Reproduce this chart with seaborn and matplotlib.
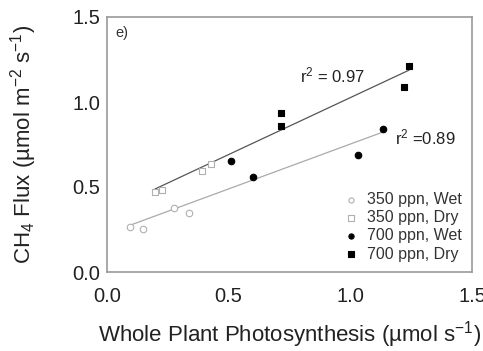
import numpy as np
import pandas as pd
import matplotlib
matplotlib.use("Agg")
import matplotlib.pyplot as plt
import seaborn as sns

# ---- data ----
wet350_x = [0.095, 0.149, 0.275, 0.338]
wet350_y = [0.266, 0.253, 0.375, 0.349]
dry350_x = [0.197, 0.225, 0.389, 0.426]
dry350_y = [0.472, 0.482, 0.596, 0.635]
wet700_x = [0.510, 0.601, 1.030, 1.133]
wet700_y = [0.653, 0.557, 0.688, 0.839]
dry700_x = [0.715, 0.715, 1.222, 1.242]
dry700_y = [0.937, 0.859, 1.090, 1.214]
labels = ["350 ppn, Wet", "350 ppn, Dry", "700 ppn, Wet", "700 ppn, Dry"]
x_ticks = [0.0, 0.5, 1.0, 1.5]
y_ticks = [0.0, 0.5, 1.0, 1.5]
r2_text = ["r$^2$ = 0.97", "r$^2$ =0.89"]

sns.set_style("white")
plt.rcParams["font.family"] = ["Liberation Sans", "DejaVu Sans"]
plt.rcParams["mathtext.fontset"] = "custom"
plt.rcParams["mathtext.rm"] = "Liberation Sans"
plt.rcParams["mathtext.it"] = "Liberation Sans"

df = pd.concat([
    pd.DataFrame({"x": wet350_x, "y": wet350_y, "grp": labels[0], "moist": "Wet"}),
    pd.DataFrame({"x": dry350_x, "y": dry350_y, "grp": labels[1], "moist": "Dry"}),
    pd.DataFrame({"x": wet700_x, "y": wet700_y, "grp": labels[2], "moist": "Wet"}),
    pd.DataFrame({"x": dry700_x, "y": dry700_y, "grp": labels[3], "moist": "Dry"}),
], ignore_index=True)

fig = plt.figure(figsize=(4.83, 3.51), dpi=100)
ax = fig.add_axes([107/483, 1-272/351, (472-107)/483, (272-17)/351])

# regression lines
sns.regplot(data=df[df.moist == "Dry"], x="x", y="y", ci=None, scatter=False,
            ax=ax, line_kws=dict(color="#555555", lw=0.9))
sns.regplot(data=df[df.moist == "Wet"], x="x", y="y", ci=None, scatter=False,
            ax=ax, line_kws=dict(color="#aaaaaa", lw=0.9))

styles = {
    labels[0]: dict(marker="o", facecolor="white", edgecolor="#b0b0b0"),
    labels[1]: dict(marker="s", facecolor="white", edgecolor="#b0b0b0"),
    labels[2]: dict(marker="o", facecolor="black", edgecolor="black"),
    labels[3]: dict(marker="s", facecolor="black", edgecolor="black"),
}
for lab in labels:
    st = styles[lab]
    sns.scatterplot(data=df[df.grp == lab], x="x", y="y", ax=ax, label=lab,
                    marker=st["marker"], color=st["facecolor"],
                    edgecolor=st["edgecolor"], linewidth=0.8, s=22, zorder=3)

ax.set_xlim(0, 1.5)
ax.set_ylim(0, 1.5)
ax.set_xticks(x_ticks)
ax.set_yticks(y_ticks)
ax.set_xticklabels([f"{t:.1f}" for t in x_ticks])
ax.set_yticklabels([f"{t:.1f}" for t in y_ticks])
ax.tick_params(axis="both", direction="in", length=3, color="#888888",
               labelsize=14.5, labelcolor="#222222")
ax.tick_params(axis="x", pad=11)
ax.tick_params(axis="y", pad=5)
for sp in ax.spines.values():
    sp.set_color("#999999")
    sp.set_linewidth(1.2)

ax.set_xlabel("Whole Plant Photosynthesis (µmol s$^{-1}$)", fontsize=16,
              color="#222222", labelpad=9)
ax.set_ylabel("CH$_4$ Flux (µmol m$^{-2}$ s$^{-1}$)", fontsize=16,
              color="#222222", labelpad=24)

ax.text(0.033, 1.406, "e)", fontsize=10.5, color="#333333", va="center", ha="left")
ax.text(0.793, 1.159, r2_text[0], fontsize=12, color="#222222", va="center", ha="left")
ax.text(1.184, 0.794, r2_text[1], fontsize=12, color="#222222", va="center", ha="left")

leg = ax.legend(loc="lower right", frameon=False, fontsize=11.5,
                handletextpad=0.5, labelspacing=0.2, borderaxespad=0.25,
                markerscale=0.8, handlelength=1.0)
for t in leg.get_texts():
    t.set_color("#333333")

fig.savefig("out.png", dpi=100)
